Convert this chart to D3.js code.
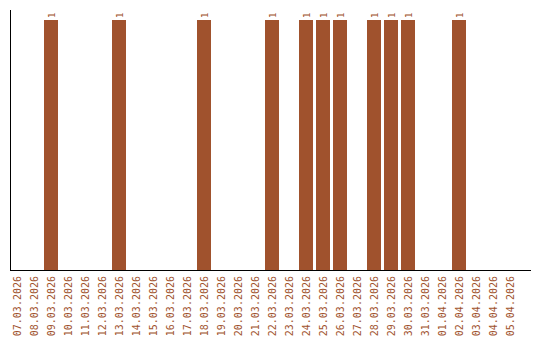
<!DOCTYPE html>
<html><head><meta charset="utf-8">
<script src="https://cdn.jsdelivr.net/npm/d3@7"></script>
<style>body{margin:0;background:#fff}</style>
</head><body>
<svg id="c" width="540" height="340"></svg>
<script>
const categories = ["07.03.2026","08.03.2026","09.03.2026","10.03.2026","11.03.2026","12.03.2026","13.03.2026","14.03.2026","15.03.2026","16.03.2026","17.03.2026","18.03.2026","19.03.2026","20.03.2026","21.03.2026","22.03.2026","23.03.2026","24.03.2026","25.03.2026","26.03.2026","27.03.2026","28.03.2026","29.03.2026","30.03.2026","31.03.2026","01.04.2026","02.04.2026","03.04.2026","04.04.2026","05.04.2026"];
const values = [0,0,1,0,0,0,1,0,0,0,0,1,0,0,0,1,0,1,1,1,0,1,1,1,0,0,1,0,0,0];

const color = "#A0522D";
const svg = d3.select("#c");
const x = d3.scaleBand().domain(categories).range([8.5, 518.5]).paddingInner(3/17).paddingOuter(1.5/17);
const y = d3.scaleLinear().domain([0, 1]).range([270, 20]);

svg.selectAll("rect.bar").data(categories).enter().append("rect")
  .attr("x", d => x(d)).attr("width", x.bandwidth())
  .attr("y", (d,i) => y(values[i])).attr("height", (d,i) => y(0) - y(values[i]))
  .attr("fill", color);

svg.selectAll("text.v").data(categories.filter((d,i)=>values[i]>0)).enter().append("text")
  .attr("transform", d => `translate(${x(d)+x.bandwidth()/2+3.5},${y(1)-2}) rotate(-90)`)
  .attr("font-family","DejaVu Sans Mono").attr("font-size","9px").attr("fill", color)
  .text(d => values[categories.indexOf(d)]);

// axes
svg.append("line").attr("x1",10.5).attr("x2",10.5).attr("y1",10).attr("y2",270).attr("stroke","#000");
svg.append("line").attr("x1",10).attr("x2",531).attr("y1",270.5).attr("y2",270.5).attr("stroke","#000");

const xa = svg.append("g").attr("transform","translate(0,270)")
  .call(d3.axisBottom(x).tickSize(0).tickPadding(0));
xa.select(".domain").remove();
xa.selectAll("text")
  .attr("font-family","DejaVu Sans Mono").attr("font-size","10px").attr("fill", color)
  .attr("text-anchor","end").attr("dy","0.35em")
  .attr("transform","translate(0,6) rotate(-90)").attr("y",0).attr("x",0);
</script>
</body></html>
